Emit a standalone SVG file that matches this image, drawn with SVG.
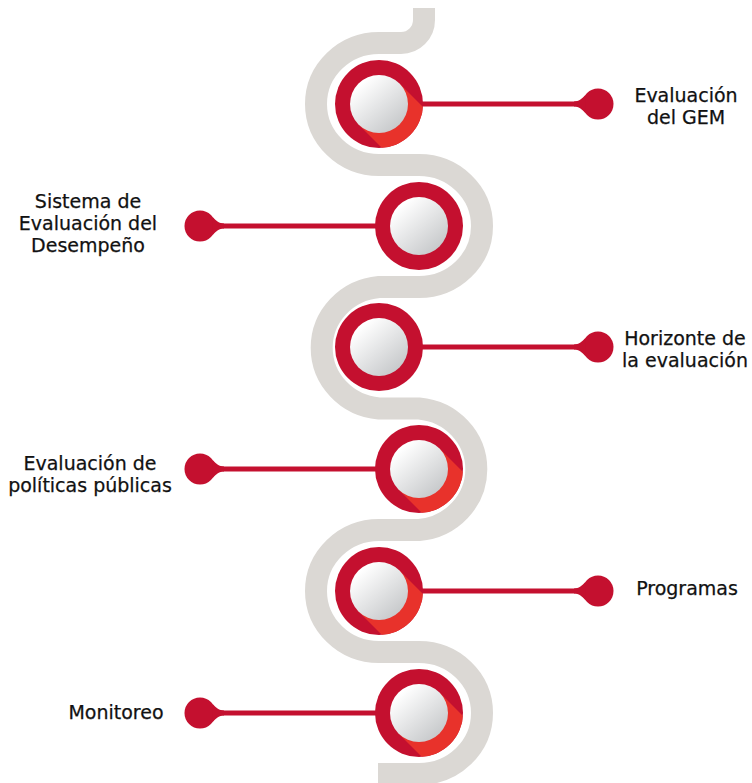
<svg xmlns="http://www.w3.org/2000/svg" xmlns:xlink="http://www.w3.org/1999/xlink" width="752" height="783" viewBox="0 0 752 783">
  <style>
    .snake { fill: none; stroke: #dbd8d4; stroke-width: 22; }
    .link { stroke: #c4102f; stroke-width: 5; fill: none; }
    .pin { fill: #c4102f; }
    .ring { fill: #c4102f; }
    .shade { fill: #e8322b; }
    .core { fill: url(#coreGrad); }
    .label { font-family: "DejaVu Sans", "Liberation Sans", sans-serif; font-size: 19px; fill: #111111; text-anchor: middle; stroke: #111111; stroke-width: 0.25; }
  </style>
  <defs>
    <linearGradient id="coreGrad" x1="0.2" y1="0.15" x2="0.85" y2="0.9">
      <stop offset="0" stop-color="#ffffff"/>
      <stop offset="1" stop-color="#c6c8ca"/>
    </linearGradient>
    <!-- round end cap with a flared neck, neck pointing to -x -->
    <g id="pin">
      <circle cx="0" cy="0" r="15.5"/>
      <path d="M-24,-2.5 C-19,-2.5 -16.5,-5 -12.7,-8.9 L-12.7,8.9 C-16.5,5 -19,2.5 -24,2.5 Z"/>
    </g>
    <clipPath id="ringClip"><circle cx="0" cy="0" r="44"/></clipPath>
    <!-- plain disc -->
    <g id="disc">
      <circle class="ring" cx="0" cy="0" r="44"/>
      <circle class="core" cx="0" cy="0" r="29"/>
    </g>
    <!-- disc with a long shadow falling to the lower right -->
    <g id="discShade">
      <circle class="ring" cx="0" cy="0" r="44"/>
      <polygon class="shade" clip-path="url(#ringClip)" points="20.5,-20.5 80.5,39.5 39.5,80.5 -20.5,20.5"/>
      <circle class="core" cx="0" cy="0" r="29"/>
    </g>
  </defs>

  <rect width="752" height="783" fill="#ffffff"/>

  <!-- winding track -->
  <path class="snake" d="M424,8 L424,20 A23,23 0 0 1 401,43 L379,43 A63,61 0 0 0 379,165 L419,165 A63,61 0 0 1 419,287 L379,287 A63,61 0 0 0 379,408.5 L419,408.5 A63,61 0 0 1 419,530 L379,530 A63,61 0 0 0 379,652 L419,652 A63,61 0 0 1 419,774 L378,774"/>

  <!-- connectors -->
  <g id="connectors">
    <line class="link" x1="379" y1="104" x2="585" y2="104"/>
    <use class="pin" xlink:href="#pin" href="#pin" transform="translate(598,104)"/>
    <line class="link" x1="419" y1="226" x2="213" y2="226"/>
    <use class="pin" xlink:href="#pin" href="#pin" transform="translate(200,226) scale(-1,1)"/>
    <line class="link" x1="379" y1="347" x2="585" y2="347"/>
    <use class="pin" xlink:href="#pin" href="#pin" transform="translate(598,347)"/>
    <line class="link" x1="419" y1="469" x2="213" y2="469"/>
    <use class="pin" xlink:href="#pin" href="#pin" transform="translate(200,469) scale(-1,1)"/>
    <line class="link" x1="379" y1="591" x2="585" y2="591"/>
    <use class="pin" xlink:href="#pin" href="#pin" transform="translate(598,591)"/>
    <line class="link" x1="419" y1="713" x2="213" y2="713"/>
    <use class="pin" xlink:href="#pin" href="#pin" transform="translate(200,713) scale(-1,1)"/>
  </g>

  <!-- nodes -->
  <g id="node-gem">
    <use xlink:href="#discShade" href="#discShade" transform="translate(379,104)"/>
    <text class="label" x="686" y="102">Evaluación</text>
    <text class="label" x="686" y="124">del GEM</text>
  </g>
  <g id="node-sed">
    <use xlink:href="#disc" href="#disc" transform="translate(419,226)"/>
    <text class="label" x="88" y="208">Sistema de</text>
    <text class="label" x="88" y="230">Evaluación del</text>
    <text class="label" x="88" y="252">Desempeño</text>
  </g>
  <g id="node-horizonte">
    <use xlink:href="#disc" href="#disc" transform="translate(379,347)"/>
    <text class="label" x="685" y="345">Horizonte de</text>
    <text class="label" x="685" y="367">la evaluación</text>
  </g>
  <g id="node-politicas">
    <use xlink:href="#discShade" href="#discShade" transform="translate(419,469)"/>
    <text class="label" x="90" y="470">Evaluación de</text>
    <text class="label" x="90" y="492">políticas públicas</text>
  </g>
  <g id="node-programas">
    <use xlink:href="#discShade" href="#discShade" transform="translate(379,591)"/>
    <text class="label" x="687" y="595">Programas</text>
  </g>
  <g id="node-monitoreo">
    <use xlink:href="#discShade" href="#discShade" transform="translate(419,713)"/>
    <text class="label" x="116" y="719">Monitoreo</text>
  </g>
</svg>
